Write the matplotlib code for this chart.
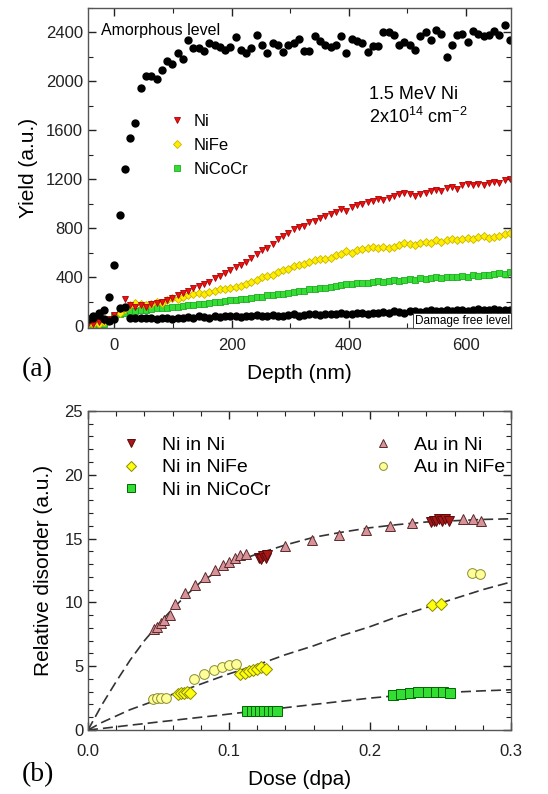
import numpy as np
import matplotlib.pyplot as plt
from matplotlib.ticker import MultipleLocator

plt.rcParams['font.family'] = ['Liberation Sans', 'DejaVu Sans']
plt.rcParams['mathtext.fontset'] = 'custom'
plt.rcParams['mathtext.rm'] = 'Liberation Sans'
plt.rcParams['mathtext.default'] = 'regular'

# ---- panel (a): RBS yield vs depth ----
depth = np.arange(-45, 676, 9)  # depth channels (nm)

amorphous = [60, 80, 110, 130, 240, 500, 910, 1280, 1540, 1660,
             1944, 2040, 2040, 2020, 2090, 2170, 2140, 2230, 2180, 2340,
             2270, 2270, 2250, 2310, 2300, 2280, 2260, 2280, 2360, 2260,
             2230, 2270, 2380, 2300, 2230, 2310, 2300, 2240, 2300, 2310,
             2350, 2250, 2250, 2370, 2330, 2300, 2280, 2300, 2370, 2230,
             2350, 2330, 2310, 2240, 2290, 2290, 2400, 2400, 2380, 2300,
             2320, 2300, 2260, 2370, 2400, 2340, 2420, 2390, 2200, 2300,
             2380, 2390, 2320, 2410, 2390, 2370, 2380, 2410, 2380, 2460,
             2340]

ni = [20, 20, 30, 40, 60, 90, 140, 220, 170, 160,
      170, 160, 180, 190, 200, 210, 230, 250, 270, 290,
      310, 330, 345, 360, 390, 410, 430, 460, 480, 500,
      520, 560, 590, 620, 640, 670, 710, 740, 760, 790,
      810, 820, 850, 860, 880, 900, 920, 930, 960, 940,
      970, 990, 1000, 1010, 1020, 1040, 1030, 1050, 1060, 1080,
      1090, 1080, 1060, 1080, 1090, 1100, 1110, 1100, 1130, 1140,
      1120, 1150, 1160, 1150, 1160, 1150, 1170, 1180, 1170, 1190,
      1200]

nife = [20, 15, 20, 30, 50, 70, 110, 140, 170, 190,
        180, 170, 180, 200, 190, 210, 230, 220, 240, 250,
        260, 270, 260, 280, 290, 300, 300, 310, 320, 330,
        340, 360, 380, 400, 410, 420, 440, 460, 470, 490,
        500, 510, 520, 540, 550, 545, 560, 580, 590, 610,
        600, 620, 630, 640, 650, 640, 650, 640, 650, 660,
        680, 670, 660, 680, 690, 680, 700, 690, 700, 710,
        700, 710, 720, 710, 730, 740, 720, 730, 740, 750,
        760]

nicocr = [10, 5, 10, 20, 40, 80, 100, 110, 120, 125,
          130, 135, 140, 145, 150, 150, 155, 160, 165, 170,
          175, 180, 180, 190, 195, 200, 205, 210, 215, 220,
          225, 230, 235, 240, 250, 255, 260, 265, 270, 275,
          285, 290, 300, 305, 310, 315, 320, 330, 335, 340,
          345, 350, 350, 355, 360, 365, 360, 370, 375, 370,
          380, 385, 380, 390, 385, 395, 400, 395, 400, 405,
          400, 410, 405, 415, 410, 420, 415, 425, 430, 425,
          440]

virgin = [60, 70, 90, 60, 40, 60, 150, 160, 70, 65,
          70, 65, 70, 60, 65, 70, 60, 65, 70, 75,
          70, 80, 75, 70, 80, 75, 80, 85, 80, 75,
          85, 80, 90, 85, 80, 90, 85, 80, 90, 95,
          85, 90, 95, 100, 90, 95, 100, 95, 105, 100,
          95, 105, 110, 100, 110, 105, 115, 110, 120, 115,
          110, 120, 125, 115, 120, 130, 125, 120, 130, 125,
          135, 130, 125, 135, 140, 130, 135, 140, 130, 135,
          130]

# ---- panel (b): relative disorder vs dose ----
au_ni_dose = [0.047, 0.049, 0.052, 0.054, 0.058, 0.062, 0.069, 0.076, 0.083, 0.090,
              0.096, 0.100, 0.104, 0.108, 0.112, 0.140, 0.159, 0.178, 0.197, 0.214,
              0.230, 0.266, 0.273, 0.279]
au_ni_val = [7.9, 8.1, 8.4, 8.6, 9.0, 9.9, 10.7, 11.4, 12.0, 12.5,
             12.9, 13.2, 13.5, 13.7, 13.8, 14.4, 14.9, 15.3, 15.7, 16.0,
             16.2, 16.5, 16.5, 16.4]

ni_ni_dose = [0.121, 0.123, 0.124, 0.126, 0.127, 0.243, 0.245, 0.247, 0.249, 0.251, 0.253, 0.256]
ni_ni_val = [13.5, 13.4, 13.6, 13.5, 13.7, 16.3, 16.4, 16.4, 16.5, 16.4, 16.5, 16.4]

ni_nife_dose = [0.064, 0.066, 0.068, 0.070, 0.072, 0.108, 0.111, 0.114, 0.117, 0.120,
                0.123, 0.126, 0.244, 0.250]
ni_nife_val = [2.8, 2.9, 2.9, 3.0, 2.9, 4.4, 4.5, 4.6, 4.7, 4.8,
               4.9, 4.8, 9.8, 9.9]

au_nife_dose = [0.046, 0.049, 0.052, 0.055, 0.0755, 0.0825, 0.089, 0.095, 0.100, 0.105, 0.272, 0.278]
au_nife_val = [2.4, 2.5, 2.5, 2.5, 4.0, 4.4, 4.7, 4.9, 5.1, 5.2, 12.3, 12.2]

ni_nicocr_dose = [0.113, 0.116, 0.119, 0.122, 0.125, 0.128, 0.131, 0.134,
                  0.216, 0.222, 0.228, 0.234, 0.241, 0.247, 0.252, 0.257]
ni_nicocr_val = [1.5, 1.5, 1.5, 1.5, 1.5, 1.5, 1.5, 1.5,
                 2.75, 2.85, 2.9, 2.95, 3.0, 3.0, 2.95, 2.9]

# dashed fit curves
fit_dose = [0, 0.01, 0.02, 0.03, 0.04, 0.05, 0.06, 0.07, 0.08, 0.09, 0.10, 0.11, 0.12,
            0.14, 0.16, 0.18, 0.20, 0.22, 0.24, 0.26, 0.28, 0.30]
fit_ni = [0, 2.0, 3.8, 5.5, 7.0, 8.3, 9.5, 10.6, 11.6, 12.3, 12.9, 13.4, 13.8,
          14.5, 15.1, 15.5, 15.85, 16.1, 16.3, 16.4, 16.5, 16.55]
fit_nife = [0, 0.6, 1.1, 1.6, 2.0, 2.4, 2.8, 3.2, 3.6, 4.0, 4.4, 4.75, 5.1,
            5.9, 6.6, 7.4, 8.1, 8.9, 9.6, 10.3, 11.0, 11.6]
fit_nicocr = [0, 0.12, 0.25, 0.38, 0.5, 0.63, 0.75, 0.88, 1.0, 1.12, 1.25, 1.38, 1.5,
              1.75, 2.0, 2.25, 2.5, 2.7, 2.85, 2.97, 3.07, 3.15]

fig = plt.figure(figsize=(5.48, 7.94), dpi=100)
axa = fig.add_axes([0.1606, 0.587, 0.772, 0.403])
axb = fig.add_axes([0.1606, 0.0806, 0.772, 0.4018])

spine_col = '#555555'

#--- (a)
axa.plot(depth, nicocr, 's', ms=4.5, mfc='#33dd33', mec='#22aa22', mew=0.6, ls='none', label='NiCoCr')
axa.plot(depth, nife, 'D', ms=4.2, mfc='#ffee00', mec='#c8b400', mew=0.6, ls='none', label='NiFe')
axa.plot(depth, ni, 'v', ms=5, mfc='#ee1111', mec='#aa0000', mew=0.6, ls='none', label='Ni')
axa.plot(depth, virgin, 'o', ms=5, color='black', ls='none')
axa.plot(depth, amorphous, 'o', ms=5, color='black', ls='none')

axa.set_xlim(-45, 677)
axa.set_ylim(-15, 2600)
axa.xaxis.set_major_locator(MultipleLocator(200))
axa.xaxis.set_minor_locator(MultipleLocator(100))
axa.yaxis.set_major_locator(MultipleLocator(400))
axa.yaxis.set_minor_locator(MultipleLocator(200))
axa.set_xlabel('Depth (nm)', fontsize=15, labelpad=8)
axa.set_ylabel('Yield (a.u.)', fontsize=15, labelpad=6)

h, l = axa.get_legend_handles_labels()
axa.legend(h[::-1], l[::-1], loc='upper left', bbox_to_anchor=(0.175, 0.69), frameon=False,
           fontsize=12, handlelength=1.0, handletextpad=0.5, labelspacing=0.55, borderaxespad=0)

axa.text(0.03, 0.93, 'Amorphous level', transform=axa.transAxes, fontsize=11.5, va='center', ha='left')
axa.text(0.665, 0.73, '1.5 MeV Ni', transform=axa.transAxes, fontsize=13, ha='left', va='center')
axa.text(0.665, 0.66, '2x10$^{14}$ cm$^{-2}$', transform=axa.transAxes, fontsize=13, ha='left', va='center')
axa.text(0.997, 0.004, 'Damage free level', transform=axa.transAxes, fontsize=8.5, ha='right', va='bottom',
         bbox=dict(facecolor='white', edgecolor='#333333', linewidth=0.6, pad=1.0))

#--- (b)
axb.plot(fit_dose, fit_ni, ls=(0, (6, 3)), color='#333333', lw=1.2, zorder=1)
axb.plot(fit_dose, fit_nife, ls=(0, (6, 3)), color='#333333', lw=1.2, zorder=1)
axb.plot(fit_dose, fit_nicocr, ls=(0, (6, 3)), color='#333333', lw=1.2, zorder=1)

pni, = axb.plot(ni_ni_dose, ni_ni_val, 'v', ms=7, mfc='#a81818', mec='#5a0a0a', mew=0.7, ls='none', zorder=3)
pnife, = axb.plot(ni_nife_dose, ni_nife_val, 'D', ms=6, mfc='#ffff10', mec='#8a8a00', mew=0.7, ls='none', zorder=3)
pnicocr, = axb.plot(ni_nicocr_dose, ni_nicocr_val, 's', ms=6.5, mfc='#33dd33', mec='#006600', mew=0.7, ls='none', zorder=3)
pauni, = axb.plot(au_ni_dose, au_ni_val, '^', ms=7, mfc='#d8939a', mec='#5a2a2a', mew=0.7, ls='none', zorder=2)
paunife, = axb.plot(au_nife_dose, au_nife_val, 'o', ms=7, mfc='#ffff99', mec='#8a8a30', mew=0.7, ls='none', zorder=2)

axb.set_xlim(0, 0.3)
axb.set_ylim(0, 25)
axb.xaxis.set_major_locator(MultipleLocator(0.1))
axb.xaxis.set_minor_locator(MultipleLocator(0.02))
axb.yaxis.set_major_locator(MultipleLocator(5))
axb.yaxis.set_minor_locator(MultipleLocator(1))
axb.set_xticks([0, 0.1, 0.2, 0.3])
axb.set_xticklabels(['0.0', '0.1', '0.2', '0.3'])
axb.set_xlabel('Dose (dpa)', fontsize=15, labelpad=8)
axb.set_ylabel('Relative disorder (a.u.)', fontsize=15, labelpad=8)

leg1 = axb.legend([pni, pnife, pnicocr], ['Ni in Ni', 'Ni in NiFe', 'Ni in NiCoCr'], loc='upper left',
                  bbox_to_anchor=(0.06, 0.945), frameon=False, fontsize=14, handlelength=1.0,
                  handletextpad=1.1, labelspacing=0.25, borderaxespad=0, markerscale=0.8)
axb.add_artist(leg1)
axb.legend([pauni, paunife], ['Au in Ni', 'Au in NiFe'], loc='upper left',
           bbox_to_anchor=(0.655, 0.945), frameon=False, fontsize=14, handlelength=1.0,
           handletextpad=1.1, labelspacing=0.25, borderaxespad=0, markerscale=0.8)

for ax in (axa, axb):
    ax.tick_params(which='both', direction='in', top=True, right=True, labelsize=12, colors='#222222')
    ax.tick_params(which='major', length=6, width=1)
    ax.tick_params(which='minor', length=3.5, width=0.8)
    for s in ax.spines.values():
        s.set_color(spine_col)
        s.set_linewidth(1.0)
axa.tick_params(axis='x', which='major', pad=7)
axb.tick_params(axis='x', which='major', pad=10)

fig.text(0.04, 0.534, '(a)', family='Liberation Serif', fontsize=20, va='center')
fig.text(0.04, 0.024, '(b)', family='Liberation Serif', fontsize=20, va='center')

fig.savefig('out.png', dpi=100)
